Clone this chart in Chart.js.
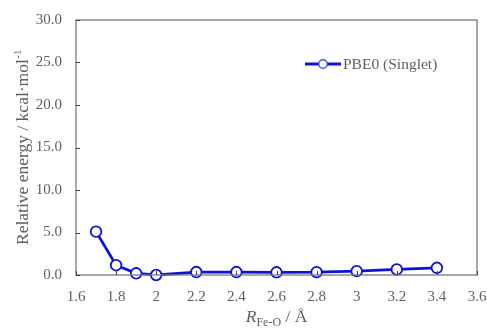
<!DOCTYPE html>
<html>
<head>
<meta charset="utf-8">
<script src="https://cdn.jsdelivr.net/npm/chart.js@4.4.0/dist/chart.umd.min.js"></script>
<style>
html,body{margin:0;padding:0;background:#fff;}
#wrap{width:487px;height:329px;}
</style>
</head>
<body>
<div id="wrap"><canvas id="c" width="487" height="329"></canvas></div>
<script>
const distances = [1.7, 1.8, 1.9, 2.0, 2.2, 2.4, 2.6, 2.8, 3.0, 3.2, 3.4];
const energies  = [5.1, 1.15, 0.2, 0.0, 0.35, 0.35, 0.32, 0.33, 0.45, 0.65, 0.85];
const seriesName = 'PBE0 (Singlet)';
const xTicks = [1.6, 1.8, 2.0, 2.2, 2.4, 2.6, 2.8, 3.0, 3.2, 3.4, 3.6];
const yTicks = [0, 5, 10, 15, 20, 25, 30];

const FONT = '"Liberation Serif", "Times New Roman", serif';
const GRAY = '#5f5f5f';
const BLUE = '#0a14d6';

const decor = {
  id: 'decor',
  afterDraw(chart) {
    const ctx = chart.ctx;
    const a = chart.chartArea;
    const xs = chart.scales.x, ys = chart.scales.y;
    ctx.save();
    // box
    ctx.strokeStyle = '#7a7a7a';
    ctx.lineWidth = 1.3;
    ctx.strokeRect(a.left, a.top, a.right - a.left, a.bottom - a.top);
    // inner ticks
    ctx.strokeStyle = '#404040';
    ctx.lineWidth = 1;
    ctx.beginPath();
    xTicks.forEach(v => {
      const px = Math.round(xs.getPixelForValue(v)) + 0.5;
      ctx.moveTo(px, a.bottom); ctx.lineTo(px, a.bottom - 4);
    });
    yTicks.forEach(v => {
      const py = Math.round(ys.getPixelForValue(v)) + 0.5;
      ctx.moveTo(a.left, py); ctx.lineTo(a.left + 4, py);
    });
    ctx.stroke();

    ctx.fillStyle = GRAY;
    ctx.textBaseline = 'alphabetic';
    // y title
    const main = 'Relative energy / kcal\u00b7mol';
    const sup = '-1';
    ctx.font = '17.5px ' + FONT;
    const w1 = ctx.measureText(main).width;
    ctx.font = '11px ' + FONT;
    const w2 = ctx.measureText(sup).width;
    const total = w1 + w2;
    const cy = (a.top + a.bottom) / 2;
    ctx.save();
    ctx.translate(28, cy);
    ctx.rotate(-Math.PI / 2);
    ctx.textAlign = 'left';
    ctx.font = '17.5px ' + FONT;
    ctx.fillText(main, -total / 2, 0);
    ctx.font = '11px ' + FONT;
    ctx.fillText(sup, -total / 2 + w1 + 0.5, -7);
    ctx.restore();

    // x title
    const cx = (a.left + a.right) / 2;
    ctx.font = 'italic 17.5px ' + FONT;
    const r = 'R';
    const wr = ctx.measureText(r).width;
    ctx.font = '12px ' + FONT;
    const sub = 'Fe-O';
    const ws = ctx.measureText(sub).width;
    ctx.font = '17.5px ' + FONT;
    const rest = ' / \u00c5';
    const wt = ctx.measureText(rest).width;
    const tot = wr + ws + wt;
    let x0 = cx - tot / 2;
    const base = 322;
    ctx.textAlign = 'left';
    ctx.font = 'italic 17.5px ' + FONT;
    ctx.fillText(r, x0, base);
    ctx.font = '12px ' + FONT;
    ctx.fillText(sub, x0 + wr, base + 4);
    ctx.font = '17.5px ' + FONT;
    ctx.fillText(rest, x0 + wr + ws, base);

    // legend
    const ds = chart.data.datasets[0];
    const ly = 64;
    ctx.strokeStyle = ds.borderColor;
    ctx.lineWidth = ds.borderWidth;
    ctx.beginPath();
    ctx.moveTo(305, ly); ctx.lineTo(341, ly);
    ctx.stroke();
    ctx.beginPath();
    ctx.arc(323, ly, 4.2, 0, Math.PI * 2);
    ctx.fillStyle = '#fff';
    ctx.fill();
    ctx.lineWidth = 1.4;
    ctx.strokeStyle = '#4a50e0';
    ctx.stroke();
    ctx.fillStyle = GRAY;
    ctx.font = '15.5px ' + FONT;
    ctx.textBaseline = 'middle';
    ctx.fillText(ds.label, 343, ly + 1);
    ctx.restore();
  }
};

new Chart(document.getElementById('c'), {
  type: 'line',
  data: {
    datasets: [{
      label: seriesName,
      data: distances.map((d, i) => ({x: d, y: energies[i]})),
      borderColor: BLUE,
      borderWidth: 2.8,
      pointBackgroundColor: '#fff',
      pointBorderColor: BLUE,
      pointBorderWidth: 1.8,
      pointRadius: 5.3,
      tension: 0,
      clip: false
    }]
  },
  options: {
    responsive: false,
    animation: false,
    devicePixelRatio: 1,
    layout: {padding: {top: 20, right: 10, left: 0, bottom: 0}},
    plugins: {legend: {display: false}, tooltip: {enabled: false}},
    scales: {
      x: {
        type: 'linear', min: 1.6, max: 3.6,
        afterBuildTicks(s) { s.ticks = xTicks.map(v => ({value: v})); },
        afterFit(s) { s.height = 54; s.paddingLeft = 0; s.paddingRight = 0; },
        grid: {display: false},
        border: {display: false},
        ticks: {
          padding: 5,
          color: GRAY,
          font: {family: FONT, size: 15},
          maxRotation: 0,
          callback: v => String(Math.round(v * 10) / 10)
        }
      },
      y: {
        type: 'linear', min: 0, max: 30,
        afterBuildTicks(s) { s.ticks = yTicks.map(v => ({value: v})); },
        afterFit(s) { s.width = 76; s.paddingTop = 0; s.paddingBottom = 0; },
        grid: {display: false},
        border: {display: false},
        ticks: {
          padding: 6,
          color: GRAY,
          font: {family: FONT, size: 15},
          callback: v => Number(v).toFixed(1)
        }
      }
    }
  },
  plugins: [decor]
});
</script>
</body>
</html>
